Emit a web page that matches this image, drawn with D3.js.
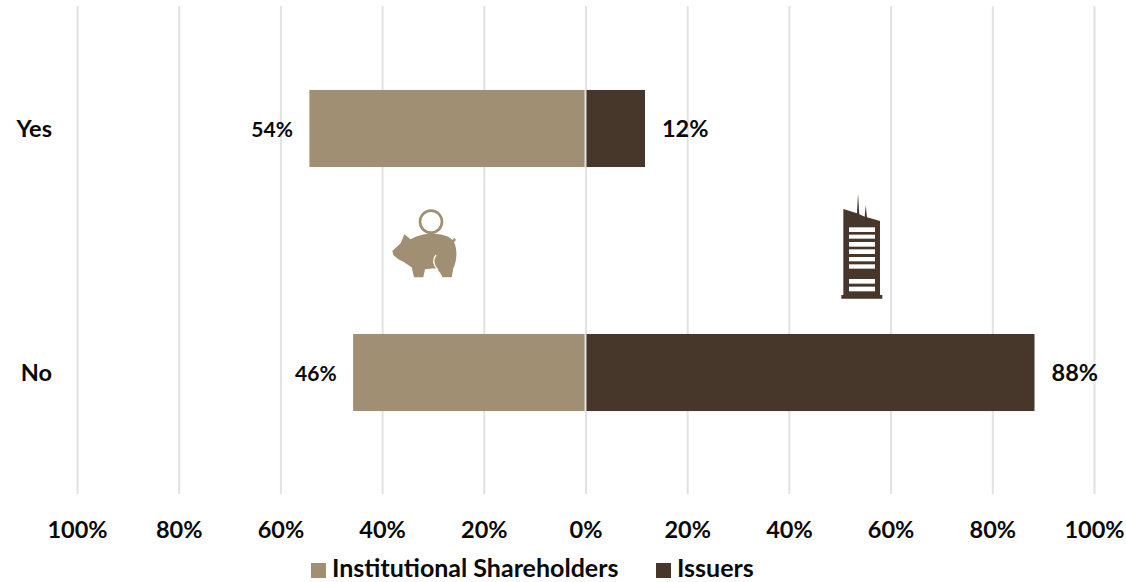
<!DOCTYPE html>
<html><head><meta charset="utf-8">
<script src="https://cdn.jsdelivr.net/npm/d3@7"></script>
<style>html,body{margin:0;padding:0;background:#fff}svg{display:block}text{font-family:Lato,sans-serif;font-weight:700;fill:#0a0a0a}</style>
</head><body><svg id="c" width="1126" height="582"></svg>
<script>
const categories = ["Yes", "No"];
const seriesNames = ["Institutional Shareholders", "Issuers"];
const shareholders = [54.3, 45.7];
const issuers = [11.7, 88.3];
const ticks = [-100, -80, -60, -40, -20, 0, 20, 40, 60, 80, 100];
const colors = ["#a08f72", "#46372a"];

const svg = d3.select("#c");
const x = d3.scaleLinear().domain([-100, 100]).range([77, 1094]);
const y = d3.scaleBand().domain(categories).range([6, 494]).paddingInner(0.68).paddingOuter(0.34);
const fmt = v => Math.abs(v) + "%";

const axis = d3.axisBottom(x).tickValues(ticks).tickFormat(fmt).tickSize(-488).tickPadding(36);
const g = svg.append("g").attr("transform", "translate(0,494)").call(axis);
g.select(".domain").remove();
g.selectAll("line").attr("stroke", "#e2e2e2").attr("stroke-width", 2);
g.selectAll("text").style("font-size", "23.5px").attr("dy", "0.36em");

svg.selectAll(".sh").data(categories).join("rect")
  .attr("x", (d, i) => x(-shareholders[i])).attr("y", d => y(d) + 1)
  .attr("width", (d, i) => x(0) - x(-shareholders[i])).attr("height", y.bandwidth() - 1)
  .attr("fill", colors[0]);
svg.selectAll(".is").data(categories).join("rect")
  .attr("x", x(0)).attr("y", d => y(d) + 1)
  .attr("width", (d, i) => x(issuers[i]) - x(0)).attr("height", y.bandwidth() - 1)
  .attr("fill", colors[1]);
categories.forEach(c => {
  svg.append("line").attr("x1", x(0)).attr("x2", x(0)).attr("y1", y(c) + 1).attr("y2", y(c) + y.bandwidth()).attr("stroke", "#e2e2e2").attr("stroke-width", 2);
});

const mid = d => y(d) + y.bandwidth() / 2;
svg.selectAll(".lsh").data(categories).join("text")
  .attr("x", (d, i) => x(-shareholders[i]) - 16.5).attr("y", d => mid(d) + 1).attr("dy", "0.36em")
  .attr("text-anchor", "end").style("font-size", "21px").text((d, i) => Math.round(shareholders[i]) + "%");
svg.selectAll(".lis").data(categories).join("text")
  .attr("x", (d, i) => x(issuers[i]) + 17).attr("y", d => mid(d) + 1).attr("dy", "0.36em")
  .style("font-size", "23.5px").text((d, i) => Math.round(issuers[i]) + "%");
svg.selectAll(".cat").data(categories).join("text")
  .attr("x", 52).attr("y", d => mid(d) + 1).attr("dy", "0.36em")
  .attr("text-anchor", "end").style("font-size", "23.5px").text(d => d);

// legend
const legend = [[311, 332], [656, 677]];
seriesNames.forEach((n, i) => {
  svg.append("rect").attr("x", legend[i][0]).attr("y", 563).attr("width", 15).attr("height", 15).attr("fill", colors[i]);
  svg.append("text").attr("x", legend[i][1]).attr("y", 577).style("font-size", "25px").text(n);
});

// pictograms
const pig = svg.append("g").attr("transform", "translate(370,190) scale(0.3333)");
pig.append("circle").attr("cx", 183).attr("cy", 95).attr("r", 33).attr("fill", "none").attr("stroke", colors[0]).attr("stroke-width", 8);
pig.append("path").attr("fill", colors[0]).attr("d", "M67,183 L92,160 L103,133 L122,148 C150,130 200,125 235,140 L248,150 L253,143 L258,150 L252,157 C262,175 262,210 250,235 L245,262 L218,262 C212,250 205,238 195,235 L165,238 L160,262 L132,262 L125,232 L100,215 L85,208 L70,195 Z");
pig.append("path").attr("fill", "none").attr("stroke", "#fff").attr("stroke-width", 4).attr("d", "M198,195 C186,210 190,225 204,240");

const tower = svg.append("g").attr("transform", "translate(820,185) scale(0.3333)");
tower.append("path").attr("fill", colors[1]).attr("d", "M70,72 L111,85 L114,25 L118,88 L134,95 L137,60 L141,97 L180,108 L180,330 L187,330 L187,341 L64,341 L64,330 L70,330 Z");
[[127,14],[149,12],[171,14],[193,14],[216,13],[238,13],[282,14],[305,14]].forEach(w => {
  tower.append("rect").attr("x", 87).attr("width", 78).attr("y", w[0]).attr("height", w[1]).attr("fill", "#fff");
});
</script></body></html>
